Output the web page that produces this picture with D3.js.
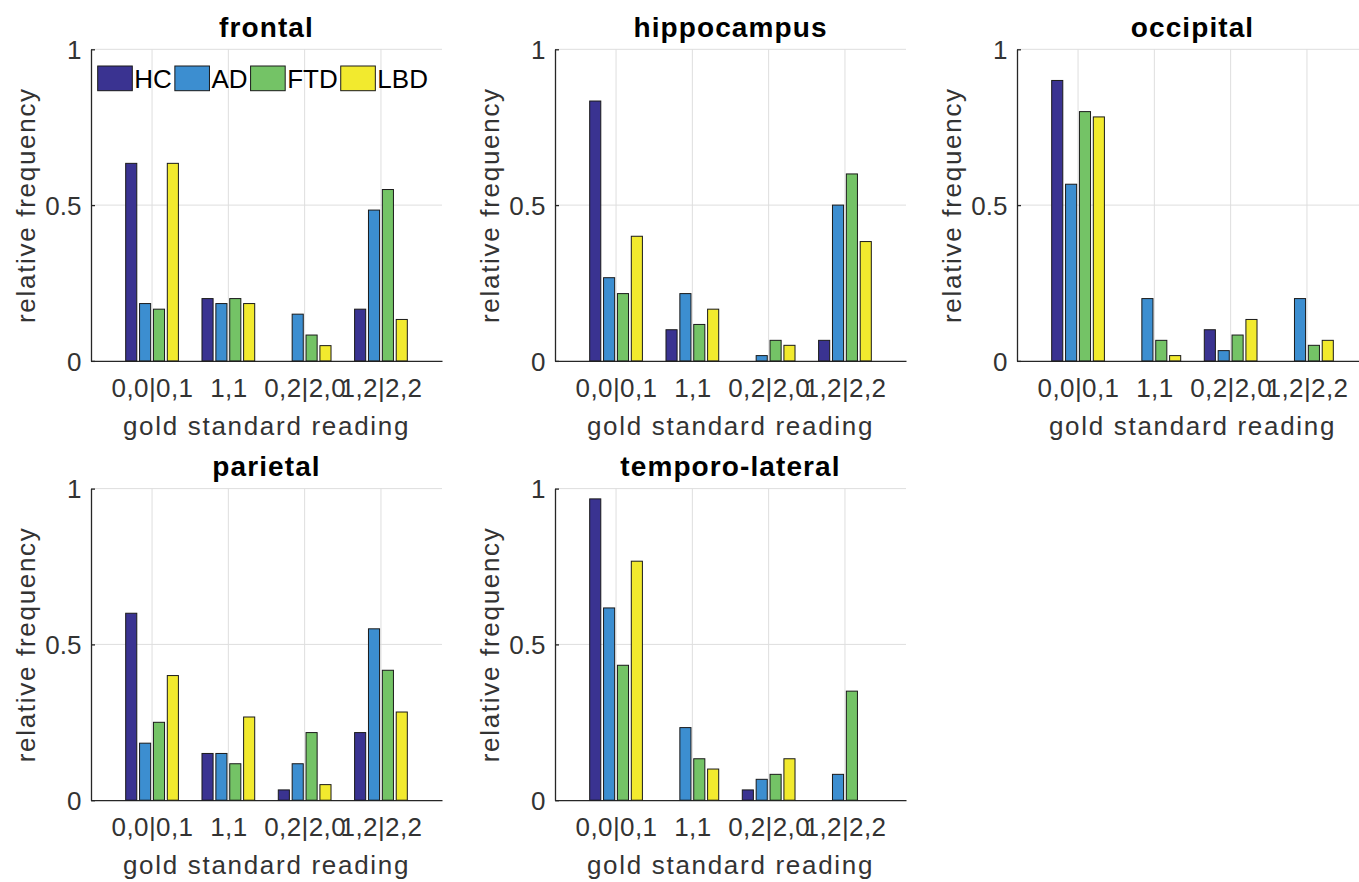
<!DOCTYPE html>
<html>
<head>
<meta charset="utf-8">
<script src="https://cdn.jsdelivr.net/npm/d3@7"></script>
<style>
	html, body { margin: 0; padding: 0; background: #fff; }
	svg { display: block; }
	text { font-family: 'Liberation Sans', Arial, Helvetica, sans-serif; }
</style>
</head>
<body>
<div id="chart"></div>
<script>
// categories
const regions = ['frontal', 'hippocampus', 'occipital', 'parietal', 'temporo-lateral']
const readings = ['0,0|0,1', '1,1', '0,2|2,0', '1,2|2,2']
const groups = ['HC', 'AD', 'FTD', 'LBD']
const colors = ['#3a3391', '#3c8ed0', '#74c366', '#f2ea2e']
const yTicks = [0, 0.5, 1]

// relative frequency, one row per group (HC, AD, FTD, LBD), one column per reading
const frontal = [
	[0.634, 0.2, 0, 0.166],
	[0.184, 0.184, 0.15, 0.484],
	[0.166, 0.2, 0.083, 0.55],
	[0.634, 0.184, 0.049, 0.133],
]
const hippocampus = [
	[0.834, 0.1, 0, 0.066],
	[0.267, 0.216, 0.017, 0.5],
	[0.216, 0.117, 0.066, 0.6],
	[0.4, 0.166, 0.05, 0.383],
]
const occipital = [
	[0.9, 0, 0.1, 0],
	[0.567, 0.2, 0.033, 0.2],
	[0.8, 0.066, 0.083, 0.05],
	[0.783, 0.017, 0.133, 0.066],
]
const parietal = [
	[0.6, 0.15, 0.033, 0.217],
	[0.183, 0.15, 0.117, 0.55],
	[0.25, 0.117, 0.217, 0.417],
	[0.4, 0.267, 0.05, 0.283],
]
const temporoLateral = [
	[0.967, 0, 0.033, 0],
	[0.617, 0.233, 0.067, 0.083],
	[0.433, 0.133, 0.083, 0.35],
	[0.767, 0.1, 0.133, 0],
]
const panelData = [frontal, hippocampus, occipital, parietal, temporoLateral]

// layout
const W = 1359
const H = 882
const axW = 351
const axH = 311.6
const lefts = [91, 555, 1017]
const tops = [49.3, 488.6]
const axisColor = '#262626'
const gridColor = '#dedede'

// matlab grouped bar geometry
const groupWidth = Math.min(0.8, groups.length / (groups.length + 1.5))
const slot = groupWidth / groups.length
const barW = 0.8 * slot

let svg = d3
	.select('#chart')
	.append('svg:svg')
	.attr('width', W)
	.attr('height', H)

let x = d3.scaleLinear().domain([0.2, 4.8]).range([0, axW])
let y = d3.scaleLinear().domain([0, 1]).range([axH, 0])

panelData.forEach((data, p) => {
	let left = lefts[p % 3]
	let top = tops[Math.floor(p / 3)]
	let g = svg.append('g').attr('transform', `translate(${left},${top})`)

	// grid
	g.selectAll('.hgrid')
		.data(yTicks.filter(d => d > 0))
		.enter()
		.append('line')
		.attr('x1', 0)
		.attr('x2', axW)
		.attr('y1', d => y(d))
		.attr('y2', d => y(d))
		.attr('stroke', gridColor)
		.attr('stroke-width', 1)
	g.selectAll('.vgrid')
		.data(readings)
		.enter()
		.append('line')
		.attr('x1', (d, i) => x(i + 1))
		.attr('x2', (d, i) => x(i + 1))
		.attr('y1', y(0))
		.attr('y2', y(1))
		.attr('stroke', gridColor)
		.attr('stroke-width', 1)

	// axes
	let yAxis = d3
		.axisLeft(y)
		.tickValues(yTicks)
		.tickFormat(d3.format('~g'))
		.tickSizeInner(-4)
		.tickSizeOuter(0)
		.tickPadding(9.5)
	let yg = g.append('g').call(yAxis)
	yg.select('.domain').attr('stroke', axisColor).attr('stroke-width', 1.3)
	yg.selectAll('.tick line').attr('stroke', axisColor).attr('stroke-width', 1.3)
	yg.selectAll('.tick text')
		.attr('font-size', 26)
		.attr('fill', '#333')
		.attr('dy', '0.36em')
		.style('font-family', "'Liberation Sans', Arial, sans-serif")

	let xAxis = d3
		.axisBottom(x)
		.tickValues([1, 2, 3, 4])
		.tickFormat(d => readings[d - 1])
		.tickSizeInner(0)
		.tickSizeOuter(0)
		.tickPadding(0)
	let xg = g.append('g').attr('transform', `translate(0,${axH})`).call(xAxis)
	xg.select('.domain').attr('stroke', axisColor).attr('stroke-width', 1.3)
	xg.selectAll('.tick text')
		.attr('font-size', 26)
		.attr('fill', '#333')
		.attr('y', 35.8)
		.attr('dy', 0)
		.attr('letter-spacing', 0.4)
		.style('font-family', "'Liberation Sans', Arial, sans-serif")

	// bars
	data.forEach((vals, s) => {
		g.selectAll(`.bar${s}`)
			.data(vals)
			.enter()
			.append('rect')
			.attr('x', (d, i) => x(i + 1 + (s - 1.5) * slot - barW / 2))
			.attr('y', d => y(d))
			.attr('width', x(barW) - x(0))
			.attr('height', d => y(0) - y(d))
			.attr('fill', colors[s])
			.attr('stroke', '#1a1a1a')
			.attr('stroke-width', 1)
	})

	// labels
	g.append('text')
		.attr('x', axW / 2)
		.attr('y', -12.8)
		.attr('text-anchor', 'middle')
		.attr('font-size', 28)
		.attr('font-weight', 'bold')
		.attr('letter-spacing', 1.1)
		.attr('fill', '#000')
		.text(regions[p])
	g.append('text')
		.attr('x', axW / 2)
		.attr('y', axH + 74.3)
		.attr('text-anchor', 'middle')
		.attr('font-size', 26)
		.attr('letter-spacing', 1.7)
		.attr('fill', '#333')
		.text('gold standard reading')
	g.append('text')
		.attr('transform', `translate(-56,${axH / 2}) rotate(-90)`)
		.attr('text-anchor', 'middle')
		.attr('font-size', 26)
		.attr('letter-spacing', 1.7)
		.attr('fill', '#333')
		.text('relative frequency')

	// legend only in the first panel
	if (p === 0) {
		let lx = 6.7
		groups.forEach((name, s) => {
			g.append('rect')
				.attr('x', lx)
				.attr('y', 16.7)
				.attr('width', 34.6)
				.attr('height', 24.7)
				.attr('fill', colors[s])
				.attr('stroke', '#1a1a1a')
				.attr('stroke-width', 1)
			let t = g.append('text')
				.attr('x', lx + 36.6)
				.attr('y', 29)
				.attr('dy', '0.36em')
				.attr('font-size', 26)
				.attr('fill', '#000')
				.text(name)
			lx += 36.6 + t.node().getComputedTextLength() + 3
		})
	}
})
</script>
</body>
</html>
